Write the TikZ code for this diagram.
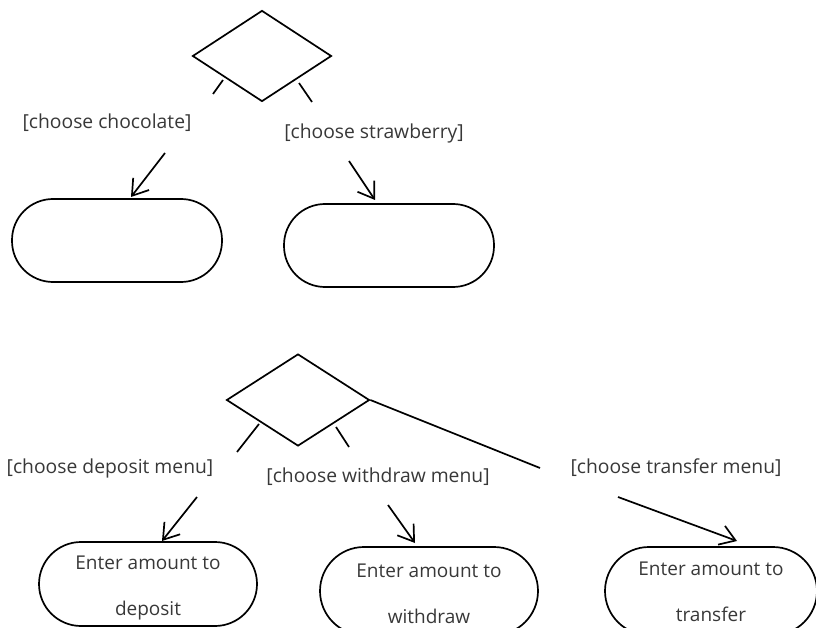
\documentclass[tikz,border=0pt]{standalone}
\usepackage{fontspec}
\setmainfont{Open Sans}
\usetikzlibrary{shapes.geometric,arrows.meta}
\begin{document}
\begin{tikzpicture}[x=1pt,y=-1pt,
  line width=1.7pt,
  decision/.style={draw, diamond, inner sep=0pt},
  activity/.style={draw, rectangle, inner sep=0pt},
  boxtext/.style={align=center, inner sep=0pt, text=black!78, font=\fontsize{19}{46}\selectfont},
  guard/.style={text=black!78, font=\fontsize{19.3}{23}\selectfont, inner sep=0pt},
  flow/.style={-{Straight Barb[length=15pt,width=20pt]}},
]
\useasboundingbox (0,0) rectangle (816,628);

% --- flavour choice ---
\node[decision, minimum width=139pt, minimum height=91pt] (d1) at (262,56) {};
\node[activity, minimum width=210pt, minimum height=83pt, rounded corners=41pt] (choc) at (117,240.5) {};
\node[activity, minimum width=210pt, minimum height=83pt, rounded corners=41pt] (straw) at (389,245.5) {};

\node[guard] (gchoc) at (107,123) {[choose chocolate]};
\node[guard] (gstraw) at (374,133) {[choose strawberry]};

\coordinate (c1a) at (223,80);  \coordinate (c1b) at (213,94);
\coordinate (c1c) at (165,153); \coordinate (c1d) at (131,197);
\coordinate (s1a) at (299,83);  \coordinate (s1b) at (312,102);
\coordinate (s1c) at (349,161); \coordinate (s1d) at (375,200);

\draw (c1a) -- (c1b);
\draw[flow] (c1c) -- (c1d);
\draw (s1a) -- (s1b);
\draw[flow] (s1c) -- (s1d);

% --- ATM menu choice ---
\node[decision, minimum width=143pt, minimum height=92pt] (d2) at (298,400) {};
\node[activity, minimum width=218pt, minimum height=84pt, rounded corners=42pt] (dep) at (148,584) {};
\node[activity, minimum width=218pt, minimum height=88pt, rounded corners=44pt] (wd) at (429,591) {};
\node[activity, minimum width=212pt, minimum height=88pt, rounded corners=44pt] (tr) at (711,591) {};
\node[boxtext] (tdep) at ([yshift=-4pt]dep.center) {Enter amount to\\deposit};
\node[boxtext] (twd) at ([yshift=-3pt]wd.center) {Enter amount to\\withdraw};
\node[boxtext] (ttr) at ([yshift=-1pt]tr.center) {Enter amount to\\transfer};

\node[guard] (gdep) at (110,468) {[choose deposit menu]};
\node[guard] (gwd) at (378,477) {[choose withdraw menu]};
\node[guard] (gtr) at (676,468) {[choose transfer menu]};

\coordinate (p1a) at (259,424); \coordinate (p1b) at (237,452);
\coordinate (p1c) at (197,497); \coordinate (p1d) at (162,541);
\coordinate (w1a) at (336,427); \coordinate (w1b) at (349,447);
\coordinate (w1c) at (388,505); \coordinate (w1d) at (415,543);
\coordinate (t1b) at (540,468);
\coordinate (t1c) at (618,497); \coordinate (t1d) at (737,541);

\draw (p1a) -- (p1b);
\draw[flow] (p1c) -- (p1d);
\draw (w1a) -- (w1b);
\draw[flow] (w1c) -- (w1d);
\draw (d2.east) -- (t1b);
\draw[flow] (t1c) -- (t1d);
\end{tikzpicture}
\end{document}
